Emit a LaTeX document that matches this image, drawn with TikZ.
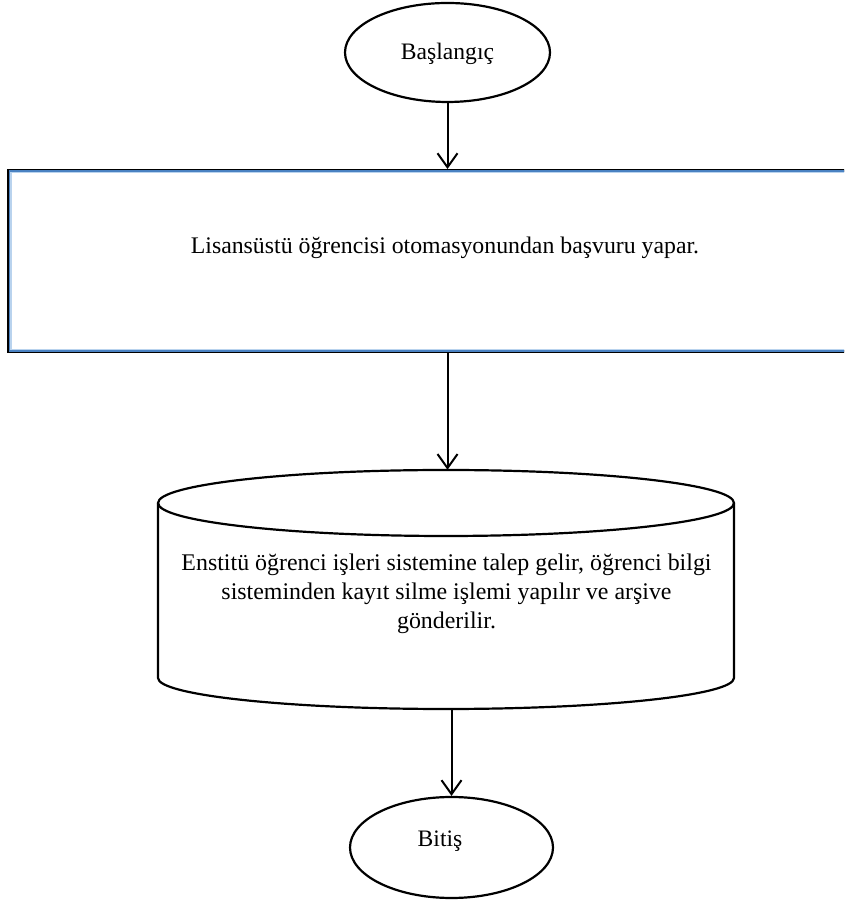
\documentclass[tikz,border=0pt]{standalone}
\usepackage{fontspec}
\setmainfont{Liberation Serif}
\usetikzlibrary{shapes.geometric,arrows.meta,calc}

\definecolor{edgeblue}{HTML}{4A82C2}
\definecolor{paleblue}{HTML}{B9D3EE}

\tikzset{
  terminal/.style={ellipse, draw, line width=2.2pt, inner sep=0pt,
    minimum width=205pt, minimum height=99pt, font=\fontsize{23.6}{28}\selectfont},
  stepbox/.style={rectangle, draw, line width=3pt, inner sep=0pt},
  plain/.style={inner sep=0pt},
  flow/.style={line width=2pt, -{Straight Barb[length=14pt,width=20pt,line width=2pt]}},
  outline/.style={line width=2.2pt, line join=round}
}

\begin{document}
\begin{tikzpicture}[x=1pt,y=1pt]
\useasboundingbox (0,0) rectangle (844,909);
\clip (0,0) rectangle (844,909);

% start terminal
\node[terminal, text height=15pt, text depth=0pt] (start) at (447.5,856.5) {Başlangıç};

% application step (box runs off the right edge)
\node[stepbox, minimum width=900pt, minimum height=181.5pt] (apply) at (458.5,647.75) {};
\draw[edgeblue, line width=1.5pt]
  ([shift={(2.25pt,-2.25pt)}]apply.north west) rectangle ([shift={(-2.25pt,2.25pt)}]apply.south east);
\draw[paleblue, line width=1.5pt]
  ([shift={(3.75pt,-3.75pt)}]apply.north west) rectangle ([shift={(-3.75pt,3.75pt)}]apply.south east);
\node[plain, anchor=base, font=\fontsize{23.8}{28}\selectfont] (applytext) at (445,655)
  {Lisansüstü öğrencisi otomasyonundan başvuru yapar.};

% database cylinder
\node[plain, minimum width=576pt, minimum height=239pt] (store) at (446,319.5) {};
\draw[outline] (446,406) ellipse [x radius=288pt, y radius=33pt];
\draw[outline] (158,406) -- (158,231)
  arc[start angle=180, end angle=360, x radius=288pt, y radius=31pt] -- (734,406);
\node[plain, anchor=north, align=center, font=\fontsize{23.9}{29}\selectfont] (storetext) at (446.5,355.4)
  {Enstitü öğrenci işleri sistemine talep gelir, öğrenci bilgi\\
   sisteminden kayıt silme işlemi yapılır ve arşive\\
   gönderilir.};

% end terminal
\node[terminal, minimum width=203pt, minimum height=101pt] (finish) at (451.5,61.5) {};
\node[plain, anchor=base, font=\fontsize{23.6}{28}\selectfont] (finishtext) at (440,62) {Bitiş};

% connectors
\draw[flow] (start.south) -- (start.south |- apply.north);
\draw[flow] (start.south |- apply.south) -- (start.south |- store.north);
\draw[flow] (finish.north |- store.south) -- (finish.north);
\end{tikzpicture}
\end{document}
